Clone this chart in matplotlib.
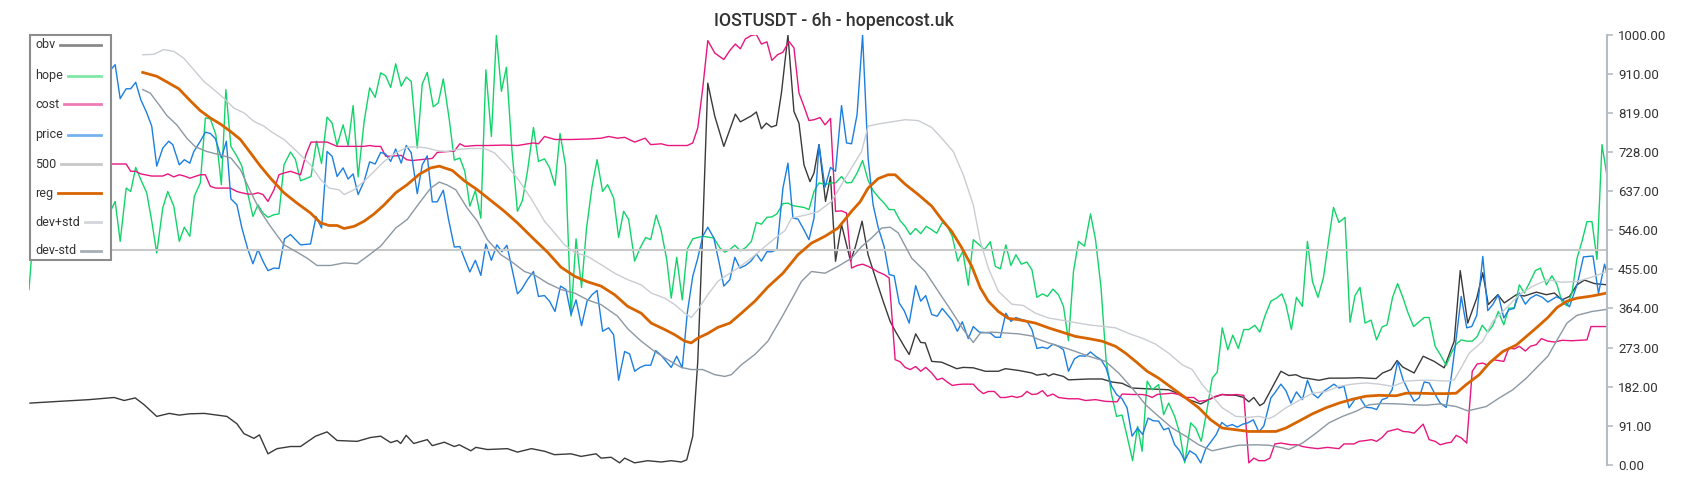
import matplotlib
matplotlib.use('Agg')
import matplotlib.pyplot as plt
from matplotlib.patches import Rectangle
from matplotlib.lines import Line2D

plt.rcParams['font.family'] = ['Roboto', 'DejaVu Sans']

TITLE = 'IOSTUSDT - 6h - hopencost.uk'
YTICKS = [0, 91, 182, 273, 364, 455, 546, 637, 728, 819, 910, 1000]
N_BARS = 316

# (bar, value) pairs
obv = [(0.2,144),(3,146),(6,148),(9,150),(12,152),(15,155),(17,157),(19,150),(21.2,156),(23,140),(25.5,113),(28,120),(30,116),(32,119),(35,120),(37,117),(39.5,113),(41.5,96),(42.9,73),(44.9,62),(46,70),(47.7,26),(49.5,38),(52.2,43),(54.2,43),(57.2,67),(59.5,77),(61.5,57),(65.5,55),(68.2,64),(70.2,67),(72.2,52),(73.5,57),(74.2,50),(75.3,69),(76.8,50),(79.5,59),(80.5,45),(82.9,53),(84.9,43),(85.9,47),(88.2,33),(89.2,41),(91.5,36),(95.5,38),(97.5,30),(100.3,38),(102.9,32),(104.9,24),(108.2,26),(110.2,20),(113.2,26),(114.2,16),(116.2,18),(117.9,5),(118.9,16),(120.9,5),(123.5,10),(126.2,7),(128.2,10),(130.2,7),(131.3,12),(132.5,67),(133.5,241),(134.5,551),(135.5,888),(136.9,811),(138.7,741),(139.9,780),(141,816),(142,798),(144.2,812),(145.2,821),(146.2,782),(147.2,795),(148.2,786),(149.2,790),(150.2,865),(151.5,1000),(152.7,822),(153.7,795),(154.7,698),(155.9,659),(156.7,679),(157.7,745),(159,613),(160,671),(161,474),(162.2,559),(164,474),(165,509),(166.3,567),(167.5,489),(169.2,427),(170.5,381),(171.9,334),(172.9,312),(174.9,272),(175.7,257),(177,305),(178,285),(178.9,284),(180.2,241),(182.2,239),(185.2,224),(186.5,227),(188.5,226),(190.9,218),(193.5,218),(194.9,224),(197.5,220),(200.2,214),(201.2,209),(202.9,212),(203.5,207),(204.5,212),(206.5,206),(207.5,198),(211.5,200),(214.2,200),(216.2,193),(218.2,190),(220.2,179),(223.5,177),(227.5,175),(229.9,164),(231.5,152),(233.9,142),(236.2,156),(238.2,164),(240.9,162),(242.5,157),(243.5,147),(244.5,157),(245.7,138),(246.5,144),(248.2,181),(249.9,218),(251.5,208),(252.9,210),(254.2,203),(255.5,201),(257.5,197),(259.5,202),(262.9,202),(265.5,203),(268.9,201),(270.2,214),(271.9,222),(273.1,243),(274.2,228),(276.5,214),(278.3,253),(280.5,241),(282.5,226),(284.5,288),(285.7,452),(287.2,330),(289,388),(290.2,447),(291.3,373),(293.2,396),(294.5,377),(296.9,396),(298.5,393),(300.9,402),(302.9,396),(304.5,400),(306,384),(307.5,392),(309,419),(310.5,430),(312.5,422),(315,419)]

hope = [(0,408),(1,560),(3,520),(5,610),(7,540),(9,600),(11,570),(13,620),(15,560),(16.3,591),(17.2,613),(18.2,520),(19.4,644),(20.3,636),(21.3,692),(22.3,664),(23.5,633),(24.5,567),(25.5,493),(26.7,598),(27.7,636),(28.9,602),(30,520),(31,553),(32.1,532),(33,625),(34.2,656),(35.2,807),(36.2,805),(37.3,768),(38.4,652),(39.3,873),(40.3,741),(41.5,718),(42.5,695),(43.7,630),(44.7,578),(45.7,605),(46.7,586),(47.7,576),(48.9,582),(49.9,584),(50.9,698),(52.2,728),(53.2,710),(54.2,661),(55.3,666),(56.3,671),(57.4,753),(58.4,701),(59.5,809),(60.5,795),(61.5,743),(62.7,791),(63.7,743),(64.7,836),(65.7,670),(66.9,799),(68,877),(69.1,855),(70.2,912),(71.2,905),(72.2,878),(73.2,933),(74.3,881),(75.3,902),(76.3,892),(77.5,737),(78.5,886),(79.5,913),(80.7,833),(81.7,842),(82.7,898),(83.9,803),(84.9,709),(86,714),(87,683),(88,602),(89.1,638),(90.2,574),(91.2,919),(92.3,764),(93.3,999),(94.3,869),(95.3,925),(96.4,733),(97.5,590),(98.5,615),(99.5,683),(100.7,785),(101.7,706),(102.9,712),(103.9,692),(105,650),(106,771),(107.1,697),(108.2,346),(109.2,526),(110.3,413),(111.3,551),(112.4,648),(113.4,710),(114.5,636),(115.5,652),(116.7,621),(117.7,529),(118.7,590),(119.7,571),(120.9,474),(122,505),(123.1,529),(124.1,524),(125.2,581),(126.2,545),(127.3,478),(128.2,388),(129.3,483),(130.4,384),(131.4,502),(132.5,526),(133.5,529),(134.5,532),(135.5,530),(136.7,528),(137.9,505),(138.9,495),(139.9,501),(140.9,511),(142,498),(143.1,506),(144.2,520),(145.2,564),(146.2,560),(147.3,576),(148.3,577),(149.3,584),(150.5,608),(151.5,609),(152.5,603),(154.7,599),(155.7,594),(156.7,636),(157.7,656),(158.9,652),(160,656),(161,656),(162.2,671),(163.2,656),(164.2,657),(165.3,679),(166.4,708),(167.5,662),(168.5,638),(169.7,621),(170.7,609),(171.7,594),(172.7,594),(173.9,568),(174.9,555),(175.9,536),(177,550),(178,538),(179.1,555),(180.2,547),(181.2,539),(182.3,564),(183.3,555),(184.3,532),(185.4,474),(186.4,497),(187.5,418),(188.5,524),(189.7,512),(190.7,501),(191.9,519),(192.9,462),(193.9,456),(195,512),(196,464),(197,489),(198.1,467),(199.2,472),(200.2,454),(201.2,390),(202.3,398),(203.3,392),(204.4,409),(205.5,396),(206.5,369),(207.5,289),(208.5,450),(209.5,520),(210.7,509),(211.9,584),(212.9,524),(214,412),(215,245),(216.1,164),(217.1,113),(218.2,116),(219.2,67),(220.3,10),(221.3,90),(222.2,32),(223.2,195),(224.2,175),(225.5,187),(226.5,117),(227.5,144),(228.7,113),(229.7,74),(230.7,5),(231.9,98),(232.9,86),(234,55),(235.1,125),(236.2,202),(237.2,216),(238.2,319),(239.3,268),(240.3,302),(241.4,271),(242.5,315),(243.5,315),(244.7,325),(245.7,309),(246.7,346),(247.9,381),(249,388),(250.1,398),(250.9,373),(252,315),(253,390),(254.2,369),(255.2,520),(256.2,427),(257.3,390),(258.4,436),(259.4,520),(260.4,599),(261.5,564),(262.7,576),(263.7,332),(264.7,394),(265.7,413),(266.7,330),(267.9,337),(269,291),(270.1,321),(271.1,326),(272.2,390),(273.2,422),(274.3,388),(275.3,353),(276.4,322),(277.5,333),(278.5,343),(279.5,343),(280.7,276),(281.7,257),(282.9,232),(283.9,260),(284.9,281),(285.9,291),(287,288),(288.1,288),(289.1,299),(290.1,325),(291.2,309),(292.2,324),(293.3,357),(294.4,326),(295.4,365),(296.5,365),(297.5,419),(298.5,400),(299.5,423),(300.7,452),(301.7,458),(302.9,419),(304,440),(305,420),(306,380),(307,370),(308,400),(309,480),(310,520),(311,566),(312,566),(313,478),(314,745),(315,672)]

cost = [(14,700),(16.3,700),(19.4,700),(20.3,683),(21.3,683),(22.3,677),(24.5,672),(26.7,672),(27.7,677),(28.9,670),(30,675),(31,672),(32.1,667),(34.2,675),(35.2,675),(36.2,648),(37.3,644),(40.2,644),(41.5,636),(42.5,633),(43.7,630),(44.7,630),(45.7,633),(46.7,629),(47.7,613),(48.9,640),(49.9,675),(50.9,679),(52.2,683),(54.2,675),(55.3,722),(56.3,751),(59.5,751),(61.5,741),(66.9,741),(68,743),(69.1,741),(70.2,741),(71.2,718),(72.2,718),(74.3,720),(75.4,710),(76.5,708),(80.5,713),(81.5,727),(83.5,729),(84.9,730),(86,747),(87,741),(89.2,743),(91.5,743),(94.9,744),(97.5,743),(100.7,749),(101.7,747),(102.9,764),(105,757),(108.2,757),(111.5,758),(114.2,760),(115.7,764),(117.5,760),(118.9,762),(120.9,751),(123,760),(124.1,745),(126.2,747),(127.5,743),(131.4,743),(132.5,749),(133.5,784),(134.5,877),(135.5,987),(136.9,958),(138.7,943),(139.9,964),(141,979),(142,968),(143,991),(144.2,999),(145.2,1001),(146.2,979),(147.3,984),(148.3,941),(149.4,954),(150.5,960),(151.7,985),(152.7,970),(153.7,865),(154.7,834),(155.7,801),(156.7,803),(157.9,808),(158.9,791),(160,806),(161,590),(162.2,591),(163.2,586),(164.2,458),(165.3,464),(166.4,467),(167.5,462),(168.5,456),(169.5,449),(170.7,443),(171.7,435),(172.9,245),(173.9,240),(174.9,227),(175.9,222),(177,229),(178,218),(179,227),(180.2,214),(181.3,198),(182.3,202),(183.3,193),(184.3,185),(185.4,187),(186.4,188),(188.5,188),(189.5,175),(190.5,166),(191.5,171),(192.7,171),(193.9,157),(194.9,157),(196.2,160),(197.2,157),(198.2,160),(199.2,171),(200.2,164),(201.2,165),(202.3,173),(203.3,160),(204.4,165),(205.5,157),(207.5,154),(209.5,154),(210.9,150),(212.9,152),(214.9,148),(217.2,147),(218.2,165),(220.2,164),(222.2,164),(223.2,162),(224.2,157),(225.2,164),(226.2,165),(228.2,167),(229.5,164),(230.5,157),(232.5,157),(233.5,148),(234.9,150),(235.9,154),(236.9,160),(238.2,164),(239.5,162),(240.9,164),(242.5,162),(243.5,5),(244.5,16),(245.5,10),(246.7,10),(247.7,16),(248.7,49),(249.9,51),(251.9,47),(253.2,47),(254.2,43),(255.2,41),(257.2,38),(259.2,41),(261.5,38),(262.5,49),(264.5,49),(265.5,55),(266.9,57),(268,59),(269,55),(270.1,64),(271.2,78),(273.2,84),(274.3,78),(275.4,77),(276.5,74),(278.3,95),(279.5,59),(280.7,55),(281.7,47),(282.9,51),(283.9,53),(284.9,69),(285.9,63),(287,51),(288.1,218),(289.1,235),(290.2,237),(291.2,232),(292.2,245),(293.3,243),(294.4,241),(295.4,272),(296.5,270),(297.5,276),(298.7,265),(299.7,276),(300.9,280),(301.9,294),(303.2,288),(304.5,286),(306,290),(308,289),(311,291),(311.8,322),(315,322)]

price = [(13,900),(14,880),(15,905),(16.3,919),(17.2,931),(18.2,852),(19.4,875),(20.3,875),(21.3,890),(22.3,850),(23.5,819),(24.5,788),(25.5,695),(26.7,737),(27.9,753),(28.7,745),(30,698),(31,710),(32.1,702),(32.9,729),(34.2,753),(35.2,774),(36.2,771),(37.2,759),(38.4,714),(39.4,753),(40.3,619),(41.5,605),(42.5,551),(43.7,501),(44.7,468),(45.7,501),(46.7,474),(47.7,452),(48.9,458),(49.9,457),(51,526),(52.2,536),(54.2,512),(56.2,514),(57.3,578),(58.4,551),(59.5,729),(60.5,718),(61.5,671),(62.7,691),(63.7,665),(64.7,677),(65.7,629),(66.9,660),(68,705),(69.1,700),(70.2,727),(71.2,723),(72.2,706),(73.2,735),(74.3,702),(75.3,743),(76.3,726),(77.5,631),(78.5,698),(79.5,719),(80.5,612),(81.5,612),(82.7,639),(83.7,574),(84.9,507),(86,508),(87,478),(88,449),(89.1,476),(90.2,441),(91.2,514),(92.3,476),(93.4,512),(94.4,496),(95.4,511),(97.5,398),(98.3,408),(99.5,431),(100.7,450),(101.7,392),(102.9,394),(103.9,381),(105,357),(106.1,416),(107.2,408),(108.2,350),(109.2,384),(110.3,324),(111.4,381),(112.4,396),(113.4,406),(114.5,311),(115.7,319),(116.7,303),(117.7,197),(118.9,264),(119.9,258),(120.9,218),(122,227),(123,232),(124.1,232),(125.1,266),(126.2,255),(127.2,241),(128.2,227),(129.3,253),(130.4,226),(131.4,353),(132.5,439),(133.5,481),(134.5,532),(135.5,553),(136.7,528),(137.7,474),(138.7,416),(139.9,431),(140.9,483),(141.9,458),(143,464),(144.1,474),(145.2,491),(146.2,474),(147.3,496),(148.3,496),(149.3,501),(150.5,644),(151.5,702),(152.5,574),(153.5,572),(154.7,547),(155.7,524),(156.7,574),(157.7,745),(158.9,646),(160,692),(161,683),(162.2,836),(163.2,749),(164.2,747),(165.3,815),(166.4,1000),(167.5,714),(168.5,605),(169.5,553),(170.7,508),(171.7,443),(172.7,440),(173.7,377),(174.7,359),(175.7,330),(177,417),(178,381),(179,394),(180.2,350),(181.3,346),(182.3,364),(183.3,350),(184.3,336),(185.3,311),(186.3,333),(187.5,294),(188.5,322),(189.7,309),(190.9,308),(191.9,307),(192.9,297),(193.9,297),(195,353),(196,334),(197,343),(198.2,338),(199.2,335),(200.2,315),(201.2,271),(202.3,274),(203.3,271),(204.4,281),(205.5,276),(206.5,268),(207.5,218),(208.7,247),(209.7,254),(210.9,253),(211.9,263),(212.9,253),(214,245),(215,226),(216.1,183),(217.1,164),(218.2,154),(219.2,133),(220.2,67),(221.3,86),(222.3,71),(223.4,109),(224.4,103),(225.5,102),(226.5,82),(227.5,86),(228.7,47),(229.7,33),(230.7,10),(231.7,33),(232.9,24),(233.9,5),(234.9,38),(236,55),(237,71),(238.1,99),(239.1,90),(240.2,94),(241.2,88),(242.3,95),(243.3,98),(244.4,105),(245.5,77),(246.5,91),(247.9,156),(248.7,168),(249.9,188),(250.9,173),(251.9,144),(253,170),(254.2,152),(255.2,197),(256.3,165),(257.3,156),(258.4,171),(259.4,179),(260.5,188),(261.5,179),(262.5,183),(263.5,133),(264.7,153),(265.7,156),(266.9,134),(268,133),(269,129),(270.1,152),(271.1,156),(272.1,175),(273.2,241),(274.3,198),(275.4,171),(276.5,148),(277.5,156),(278.5,193),(279.5,191),(280.7,164),(281.7,144),(282.9,134),(283.9,204),(284.9,295),(285.9,392),(287,319),(288,322),(289,348),(290.2,485),(291.2,359),(292.2,373),(293.3,396),(294.4,342),(295.4,361),(296.4,364),(297.5,400),(298.7,374),(299.7,388),(300.9,396),(302.1,390),(303.2,379),(304.9,391),(306,386),(307.5,368),(309.1,422),(310.3,484),(312.2,486),(313.3,399),(314.5,467),(315,446)]

line500 = [(0,500),(315,500)]

reg = [(22.7,913),(25.5,904),(27.5,891),(29.9,875),(32.2,847),(34.2,824),(36.2,807),(38.2,793),(40.2,776),(42.2,757),(44.2,726),(46.2,695),(48.2,667),(50.9,633),(53.5,609),(56.2,586),(58.2,563),(59.9,557),(61.5,557),(62.9,550),(64.9,555),(66.9,567),(68.9,584),(70.9,605),(73.2,633),(75.5,652),(77.9,676),(80.2,691),(81.9,695),(84.5,685),(86.9,661),(89.5,640),(92.2,615),(94.9,590),(97.5,563),(100.9,524),(103.5,495),(106.2,460),(108.9,439),(111.5,426),(114.2,416),(116.9,396),(119.5,369),(122.2,353),(124.2,330),(126.9,315),(128.9,303),(130.9,288),(132.2,284),(133.5,295),(135.5,306),(137.5,320),(139.9,330),(142.2,353),(144.9,381),(147.5,414),(150.5,446),(153.5,489),(156.2,516),(158.9,532),(161.5,551),(164.2,590),(165.9,612),(167.5,644),(169.5,666),(171.5,675),(172.9,675),(174.9,653),(177.5,629),(180.2,602),(182.2,571),(184.2,543),(186.2,505),(188.2,462),(189.9,412),(191.5,381),(193.5,357),(195.5,341),(197.5,338),(200.9,330),(203.5,319),(206.2,309),(208.9,299),(211.5,294),(214.2,288),(216.9,276),(218.9,260),(220.9,241),(223.2,218),(225.5,202),(228.2,179),(230.9,156),(233.5,133),(235.9,105),(238.2,86),(240.9,82),(243.5,78),(246.2,78),(248.9,78),(250.9,86),(253.5,102),(256.2,119),(258.9,133),(261.5,144),(264.2,153),(266.9,160),(269.5,162),(272.9,161),(274.9,167),(277.5,167),(280.2,166),(282.9,166),(284.9,167),(286.9,187),(289.5,210),(291.5,237),(294.2,264),(296.9,279),(298.9,299),(300.9,319),(303.2,343),(305,366),(307,381),(309,388),(312,393),(315,400)]

dev_plus = [(22.7,954),(24.9,955),(26.9,966),(28.9,962),(30.9,946),(32.9,919),(34.9,892),(36.9,873),(38.9,853),(40.9,830),(42.9,819),(44.9,799),(46.9,788),(48.5,774),(50.9,757),(53.5,729),(56.2,698),(58.2,664),(59.9,644),(61.9,640),(62.9,629),(64.9,640),(66.9,660),(68.9,683),(70.9,706),(73.2,726),(75.5,739),(77.5,740),(79.5,737),(81.5,731),(83.5,729),(85.5,734),(88.2,736),(90.9,736),(92.9,726),(94.9,702),(97.5,667),(100.2,620),(102.9,567),(104.9,540),(106.9,512),(108.9,495),(111.5,485),(114.2,466),(116.9,446),(119.5,431),(122.2,419),(124.2,400),(126.9,388),(128.9,373),(130.9,353),(132.2,343),(133.5,361),(135.5,396),(137.5,427),(139.5,443),(141.5,458),(144.2,481),(146.9,508),(149.2,530),(150.9,545),(152.2,574),(154.9,581),(157.5,589),(160.2,613),(162.2,652),(164.2,691),(166.2,729),(167.5,788),(169.5,793),(172.2,798),(174.9,803),(177.5,801),(180.2,785),(182.2,760),(184.5,729),(186.5,675),(188.5,605),(189.9,520),(191.5,458),(193.5,404),(196.2,374),(198.5,371),(200.9,353),(203.5,342),(207.5,334),(211.5,326),(216.9,319),(219.5,306),(222.2,295),(224.9,281),(227.5,260),(230.2,233),(232.2,222),(234.2,187),(236.2,160),(238.2,133),(240.9,113),(243.5,111),(245.5,113),(247.5,108),(248.5,113),(250.9,133),(253.5,150),(256.2,167),(258.9,171),(261.5,183),(264.2,188),(266.9,191),(269.5,188),(272.2,183),(274.9,195),(277.5,197),(280.2,197),(282.9,195),(284.5,198),(285.5,218),(287.5,260),(290.2,288),(292.2,334),(294.9,365),(297.5,396),(300.2,416),(303.2,431),(306,425),(309,427),(312,437),(315,450)]

dev_minus = [(22.7,873),(24.2,865),(26.2,834),(27.5,813),(29.5,791),(31.5,760),(33.2,740),(35.5,729),(38.2,721),(40.3,714),(42.2,687),(44.2,636),(46.2,590),(48.2,555),(50.9,512),(53.5,495),(55.5,481),(57.5,464),(60.2,464),(62.9,470),(65.5,468),(67.5,485),(70.2,509),(73.2,551),(75.5,571),(77.9,609),(80.2,644),(81.9,658),(83.5,651),(85.2,640),(87.5,597),(89.5,567),(91.5,524),(94.2,489),(96.2,474),(98.9,450),(100.9,442),(103.5,423),(106.2,408),(108.9,400),(111.5,384),(114.2,373),(117.5,346),(119.5,317),(122.2,288),(124.9,264),(127.5,245),(130.2,227),(132.2,222),(134.5,222),(136.9,210),(138.9,206),(140.2,210),(142.2,233),(144.9,257),(147.5,288),(150.2,342),(152.2,384),(154.2,427),(156.2,450),(158.9,446),(161.5,462),(164.2,481),(166.2,508),(168.2,528),(170.2,551),(171.9,553),(173.5,540),(176.2,481),(178.9,450),(181.5,404),(184.2,357),(186.5,315),(188.5,285),(189.9,307),(192.2,309),(194.9,307),(197.5,305),(200.2,300),(200.9,295),(203.5,284),(206.9,272),(208.9,264),(211.5,253),(214.9,241),(217.5,214),(220.2,179),(222.9,140),(225.5,113),(228.2,86),(230.9,67),(233.5,47),(236.2,33),(238.9,40),(241.5,46),(244.9,47),(247.5,46),(250.2,40),(251.5,36),(254.2,51),(256.9,74),(259.5,98),(262.2,113),(264.9,125),(267.5,140),(270.2,143),(273.5,142),(276.2,140),(278.9,139),(281.5,142),(284.9,136),(287.2,126),(290.9,136),(293.5,156),(296.2,175),(298.9,202),(301.5,233),(303.2,253),(305,290),(307,330),(309,348),(312,357),(315,362)]

series = [
    ('obv', obv, '#3a3a3a', 1.0, '#8a8a8a'),
    ('hope', hope, '#12d46a', 1.0, '#7fe8a8'),
    ('cost', cost, '#e8167f', 1.0, '#ee7ab6'),
    ('price', price, '#1c7fe0', 1.0, '#74b2ee'),
    ('500', line500, '#c8c8c8', 1.5, '#c8c8c8'),
    ('reg', reg, '#d86400', 2.0, '#d86400'),
    ('dev+std', dev_plus, '#c9cdd2', 1.0, '#d2d6da'),
    ('dev-std', dev_minus, '#8c98a2', 1.0, '#a6afb7'),
]

W, H = 1700, 500
fig = plt.figure(figsize=(W/100, H/100), dpi=100)
ax = fig.add_axes([29/W, 35/H, (1607-29)/W, 430/H])
ax.set_xlim(0, N_BARS - 1)
ax.set_ylim(0, 1000)

for name, data, color, lw, _ in series:
    xs = [p[0] for p in data]
    ys = [p[1] for p in data]
    ax.plot(xs, ys, color=color, lw=lw, solid_joinstyle='round')

for s in ['top', 'left', 'bottom']:
    ax.spines[s].set_visible(False)
ax.spines['right'].set_color('#b4bcc4')
ax.spines['right'].set_linewidth(1.5)
ax.set_xticks([])
ax.yaxis.tick_right()
ax.set_yticks(YTICKS)
ax.set_yticklabels([f'{v:.2f}' for v in YTICKS])
ax.tick_params(axis='y', direction='out', length=4, width=1.2, color='#b4bcc4',
               labelcolor='#333333', labelsize=9.5, pad=4)

fig.text(834/W, 1 - 21/H, TITLE, ha='center', va='center', fontsize=12.8,
         color='#333333', fontweight='medium')

# legend box
lx0, lx1, ly_top, ly_bot = 30, 110.7, 34.7, 259.7
fig.add_artist(Rectangle((lx0/W, 1 - ly_bot/H), (lx1-lx0)/W, (ly_bot-ly_top)/H,
                         transform=fig.transFigure, facecolor='white',
                         edgecolor='#8c8c8c', lw=1.5, zorder=5))
leg_y = [44.7, 75.5, 104, 134.5, 164, 193, 222, 250.7]
renderer = fig.canvas.get_renderer()
for (name, _, _, _, hcol), yy in zip(series, leg_y):
    t = fig.text(35/W, 1 - yy/H, name, ha='left', va='center', fontsize=9,
                 color='#333333', zorder=7)
    bb = t.get_window_extent(renderer=renderer)
    hx = max(bb.x1 + 5, 55)
    fig.add_artist(Line2D([hx/W, 101/W], [1 - yy/H, 1 - yy/H],
                          transform=fig.transFigure, color=hcol, lw=2.0, zorder=6))

fig.savefig('out.png', dpi=100)
